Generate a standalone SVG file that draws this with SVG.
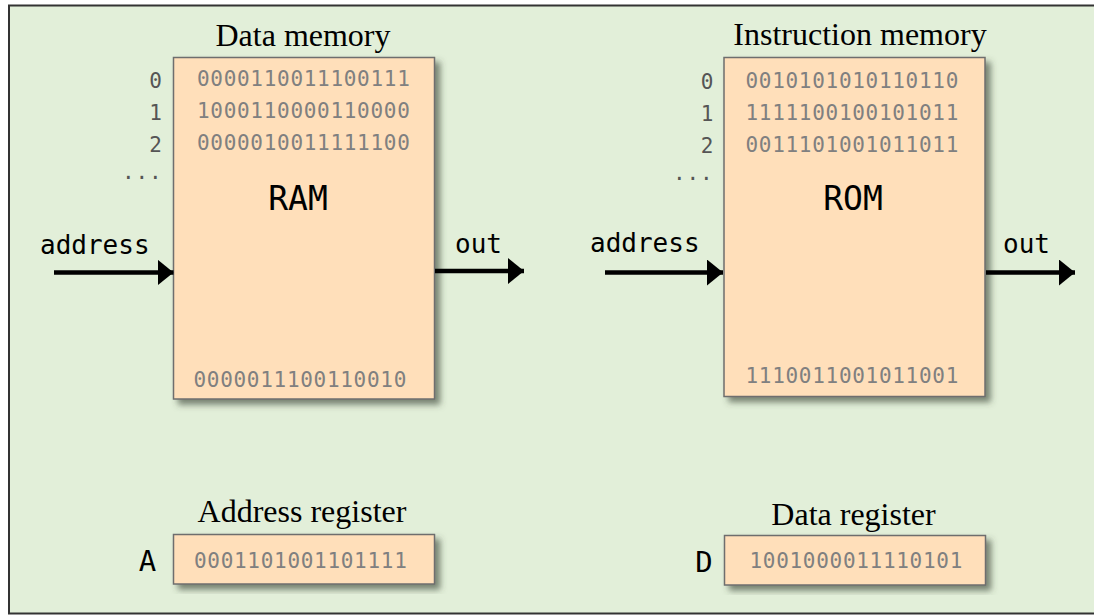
<svg xmlns="http://www.w3.org/2000/svg" width="1094" height="616" viewBox="0 0 1094 616">
  <defs>
    <filter id="shadow" x="-10%" y="-10%" width="130%" height="130%">
      <feDropShadow dx="5" dy="5" stdDeviation="3" flood-color="#3c4a38" flood-opacity="0.65"/>
    </filter>
    <marker id="arrow" viewBox="0 0 16 26" refX="16" refY="13" markerWidth="16" markerHeight="26" markerUnits="userSpaceOnUse" orient="auto">
      <path d="M0,0 L16,13 L0,26 Z" fill="#000"/>
    </marker>
    <style>
      .box { fill: #FFDFBA; stroke: #6e6e6e; stroke-width: 1.5; filter: url(#shadow); }
      .title { font-family: "Liberation Serif", "Times New Roman", serif; font-size: 32px; fill: #000; text-anchor: middle; }
      .bits { font-family: "DejaVu Sans Mono", monospace; font-size: 21px; letter-spacing: 0.7px; fill: #808080; }
      .idx { font-family: "DejaVu Sans Mono", monospace; font-size: 21px; fill: #555; text-anchor: middle; }
      .dots { font-family: "DejaVu Sans Mono", monospace; font-size: 21px; letter-spacing: 0.8px; fill: #555; }
      .name { font-family: "DejaVu Sans Mono", monospace; font-size: 33px; fill: #000; text-anchor: middle; }
      .port { font-family: "DejaVu Sans Mono", monospace; font-size: 26px; fill: #000; }
      .reg { font-family: "DejaVu Sans Mono", monospace; font-size: 29px; fill: #000; text-anchor: middle; }
      .wire { stroke: #000; stroke-width: 4.5; fill: none; marker-end: url(#arrow); }
    </style>
  </defs>

  <!-- background panel -->
  <rect x="0" y="0" width="1094" height="616" fill="#ffffff"/>
  <rect x="9" y="5.5" width="1100" height="608" fill="#E2EFD9" stroke="#333" stroke-width="2"/>

  <!-- data memory (RAM) -->
  <g id="ram">
    <text class="title" x="303" y="46">Data memory</text>
    <rect class="box" x="173.5" y="57.5" width="261" height="341.5"/>
    <text class="idx" x="155.5" y="88">0</text>
    <text class="idx" x="155.5" y="120">1</text>
    <text class="idx" x="155.5" y="152">2</text>
    <text class="dots" x="122" y="179">...</text>
    <text class="bits" x="197" y="86">0000110011100111</text>
    <text class="bits" x="197" y="118">1000110000110000</text>
    <text class="bits" x="197" y="150">0000010011111100</text>
    <text class="name" x="298" y="210">RAM</text>
    <text class="bits" x="193.5" y="387">0000011100110010</text>
    <text class="port" x="40" y="254">address</text>
    <text class="port" x="455" y="253">out</text>
  </g>

  <!-- instruction memory (ROM) -->
  <g id="rom">
    <text class="title" x="860" y="45">Instruction memory</text>
    <rect class="box" x="724" y="57.5" width="261" height="339"/>
    <text class="idx" x="707" y="89">0</text>
    <text class="idx" x="707" y="121">1</text>
    <text class="idx" x="707" y="153">2</text>
    <text class="dots" x="673" y="180">...</text>
    <text class="bits" x="745.5" y="88">0010101010110110</text>
    <text class="bits" x="745.5" y="120">1111100100101011</text>
    <text class="bits" x="745.5" y="152">0011101001011011</text>
    <text class="name" x="853" y="210">ROM</text>
    <text class="bits" x="745.5" y="383">1110011001011001</text>
    <text class="port" x="590" y="252">address</text>
    <text class="port" x="1003" y="253">out</text>
  </g>

  <!-- address register A -->
  <g id="reg-a">
    <text class="title" x="302" y="522">Address register</text>
    <rect class="box" x="173.5" y="534.5" width="261" height="49.5"/>
    <text class="reg" x="147.5" y="571">A</text>
    <text class="bits" x="194" y="568">0001101001101111</text>
  </g>

  <!-- data register D -->
  <g id="reg-d">
    <text class="title" x="853.5" y="525">Data register</text>
    <rect class="box" x="724.5" y="535.5" width="261" height="49.5"/>
    <text class="reg" x="704" y="572">D</text>
    <text class="bits" x="749.5" y="568">1001000011110101</text>
  </g>

  <!-- connectors -->
  <g id="connectors">
    <line class="wire" x1="54" y1="272.5" x2="173.5" y2="272.5"/>
    <line class="wire" x1="435" y1="271" x2="524" y2="271"/>
    <line class="wire" x1="605" y1="272.5" x2="723" y2="272.5"/>
    <line class="wire" x1="986" y1="272.5" x2="1075" y2="272.5"/>
  </g>
</svg>
